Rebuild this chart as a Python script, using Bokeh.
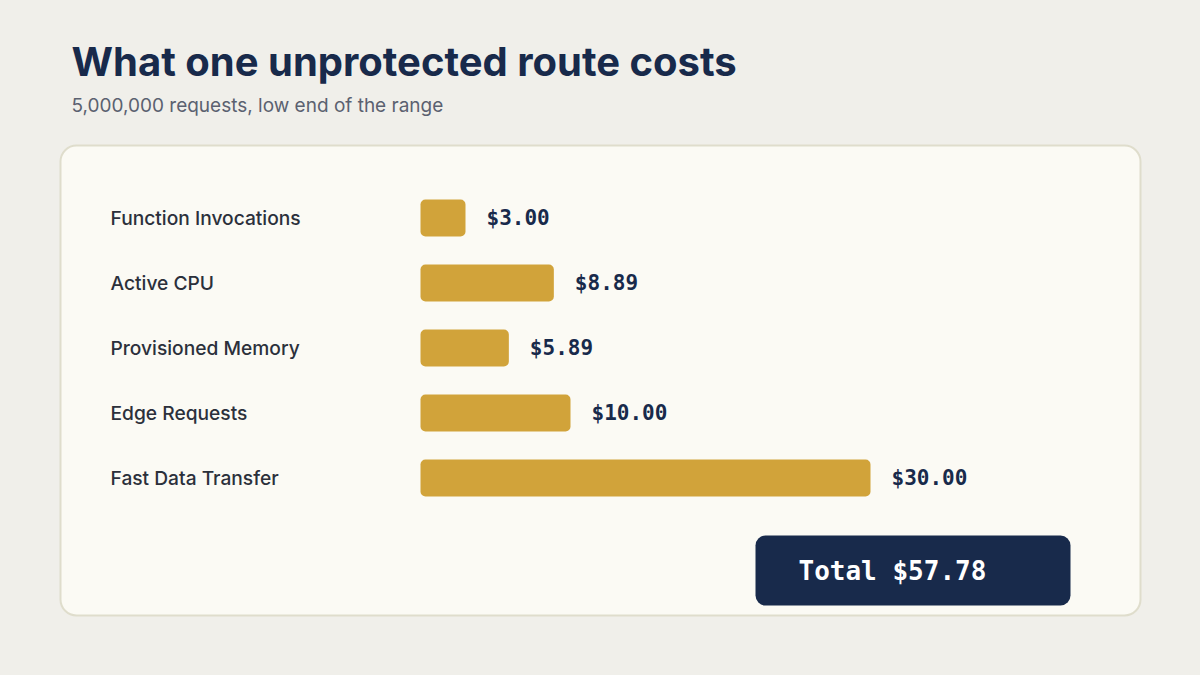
from bokeh.core.properties import value
from bokeh.embed import file_html
from bokeh.models import GlobalInlineStyleSheet, Range1d
from bokeh.plotting import figure
from bokeh.resources import INLINE

# chart data
categories = ["Function Invocations", "Active CPU", "Provisioned Memory",
              "Edge Requests", "Fast Data Transfer"]
costs = [3.00, 8.89, 5.89, 10.00, 30.00]
title = "What one unprotected route costs"
subtitle = "5,000,000 requests, low end of the range"

total = sum(costs)

# colours
bg = "#f0efea"
card_fill = "#fbfaf4"
card_line = "#dfddcc"
gold = "#d1a33a"
navy = "#182a4b"

# pixel layout -> dollar scale (bars start at 420px, 15px per dollar)
X0, PX_PER_USD = 420, 15.0


def sx(px):
    return (px - X0) / PX_PER_USD


p = figure(width=1184, height=659, output_backend="svg", toolbar_location=None,
           x_range=Range1d(sx(0), sx(1184)), y_range=Range1d(659, 0),
           min_border=0, background_fill_color=bg, border_fill_color=bg,
           outline_line_color=None)
p.axis.visible = False
p.grid.visible = False
p.stylesheets = [GlobalInlineStyleSheet(css="body { background: %s; }" % bg)]

# card
p.quad(left=[sx(60)], right=[sx(1140)], top=[145], bottom=[615],
       fill_color=card_fill, line_color=card_line, line_width=2, border_radius=16)

# title + subtitle
p.text(x=[sx(71)], y=[61], text=[title], text_font=value("Inter"),
       text_font_style="bold", text_font_size="40px", text_color=navy,
       text_baseline="middle")
p.text(x=[sx(71)], y=[105], text=[subtitle], text_font=value("Inter"),
       text_font_size="19px", text_color="#5b6170", text_baseline="middle")

rows = [217.5 + 65 * i for i in range(len(categories))]

p.hbar(y=rows, left=0, right=costs, height=37, fill_color=gold, line_color=None,
       border_radius=5)

p.text(x=[sx(110)] * len(categories), y=rows, text=categories,
       text_font=value("Inter Medium, Inter"), text_font_size="19.2px",
       text_color="#2b303b", text_baseline="middle")

p.text(x=costs, y=rows, text=["$%.2f" % c for c in costs], x_offset=21,
       text_font=value("DejaVu Sans Mono"), text_font_style="bold",
       text_font_size="21px", text_color=navy, text_baseline="middle")

# total box
p.quad(left=[sx(755)], right=[sx(1070)], top=[535], bottom=[605],
       fill_color=navy, line_color=None, border_radius=10)
p.text(x=[sx(798)], y=[570], text=["Total $%.2f" % total],
       text_font=value("DejaVu Sans Mono"), text_font_style="bold",
       text_font_size="26px", text_color="white", text_baseline="middle")

open("out.html", "w").write(file_html(p, INLINE))
